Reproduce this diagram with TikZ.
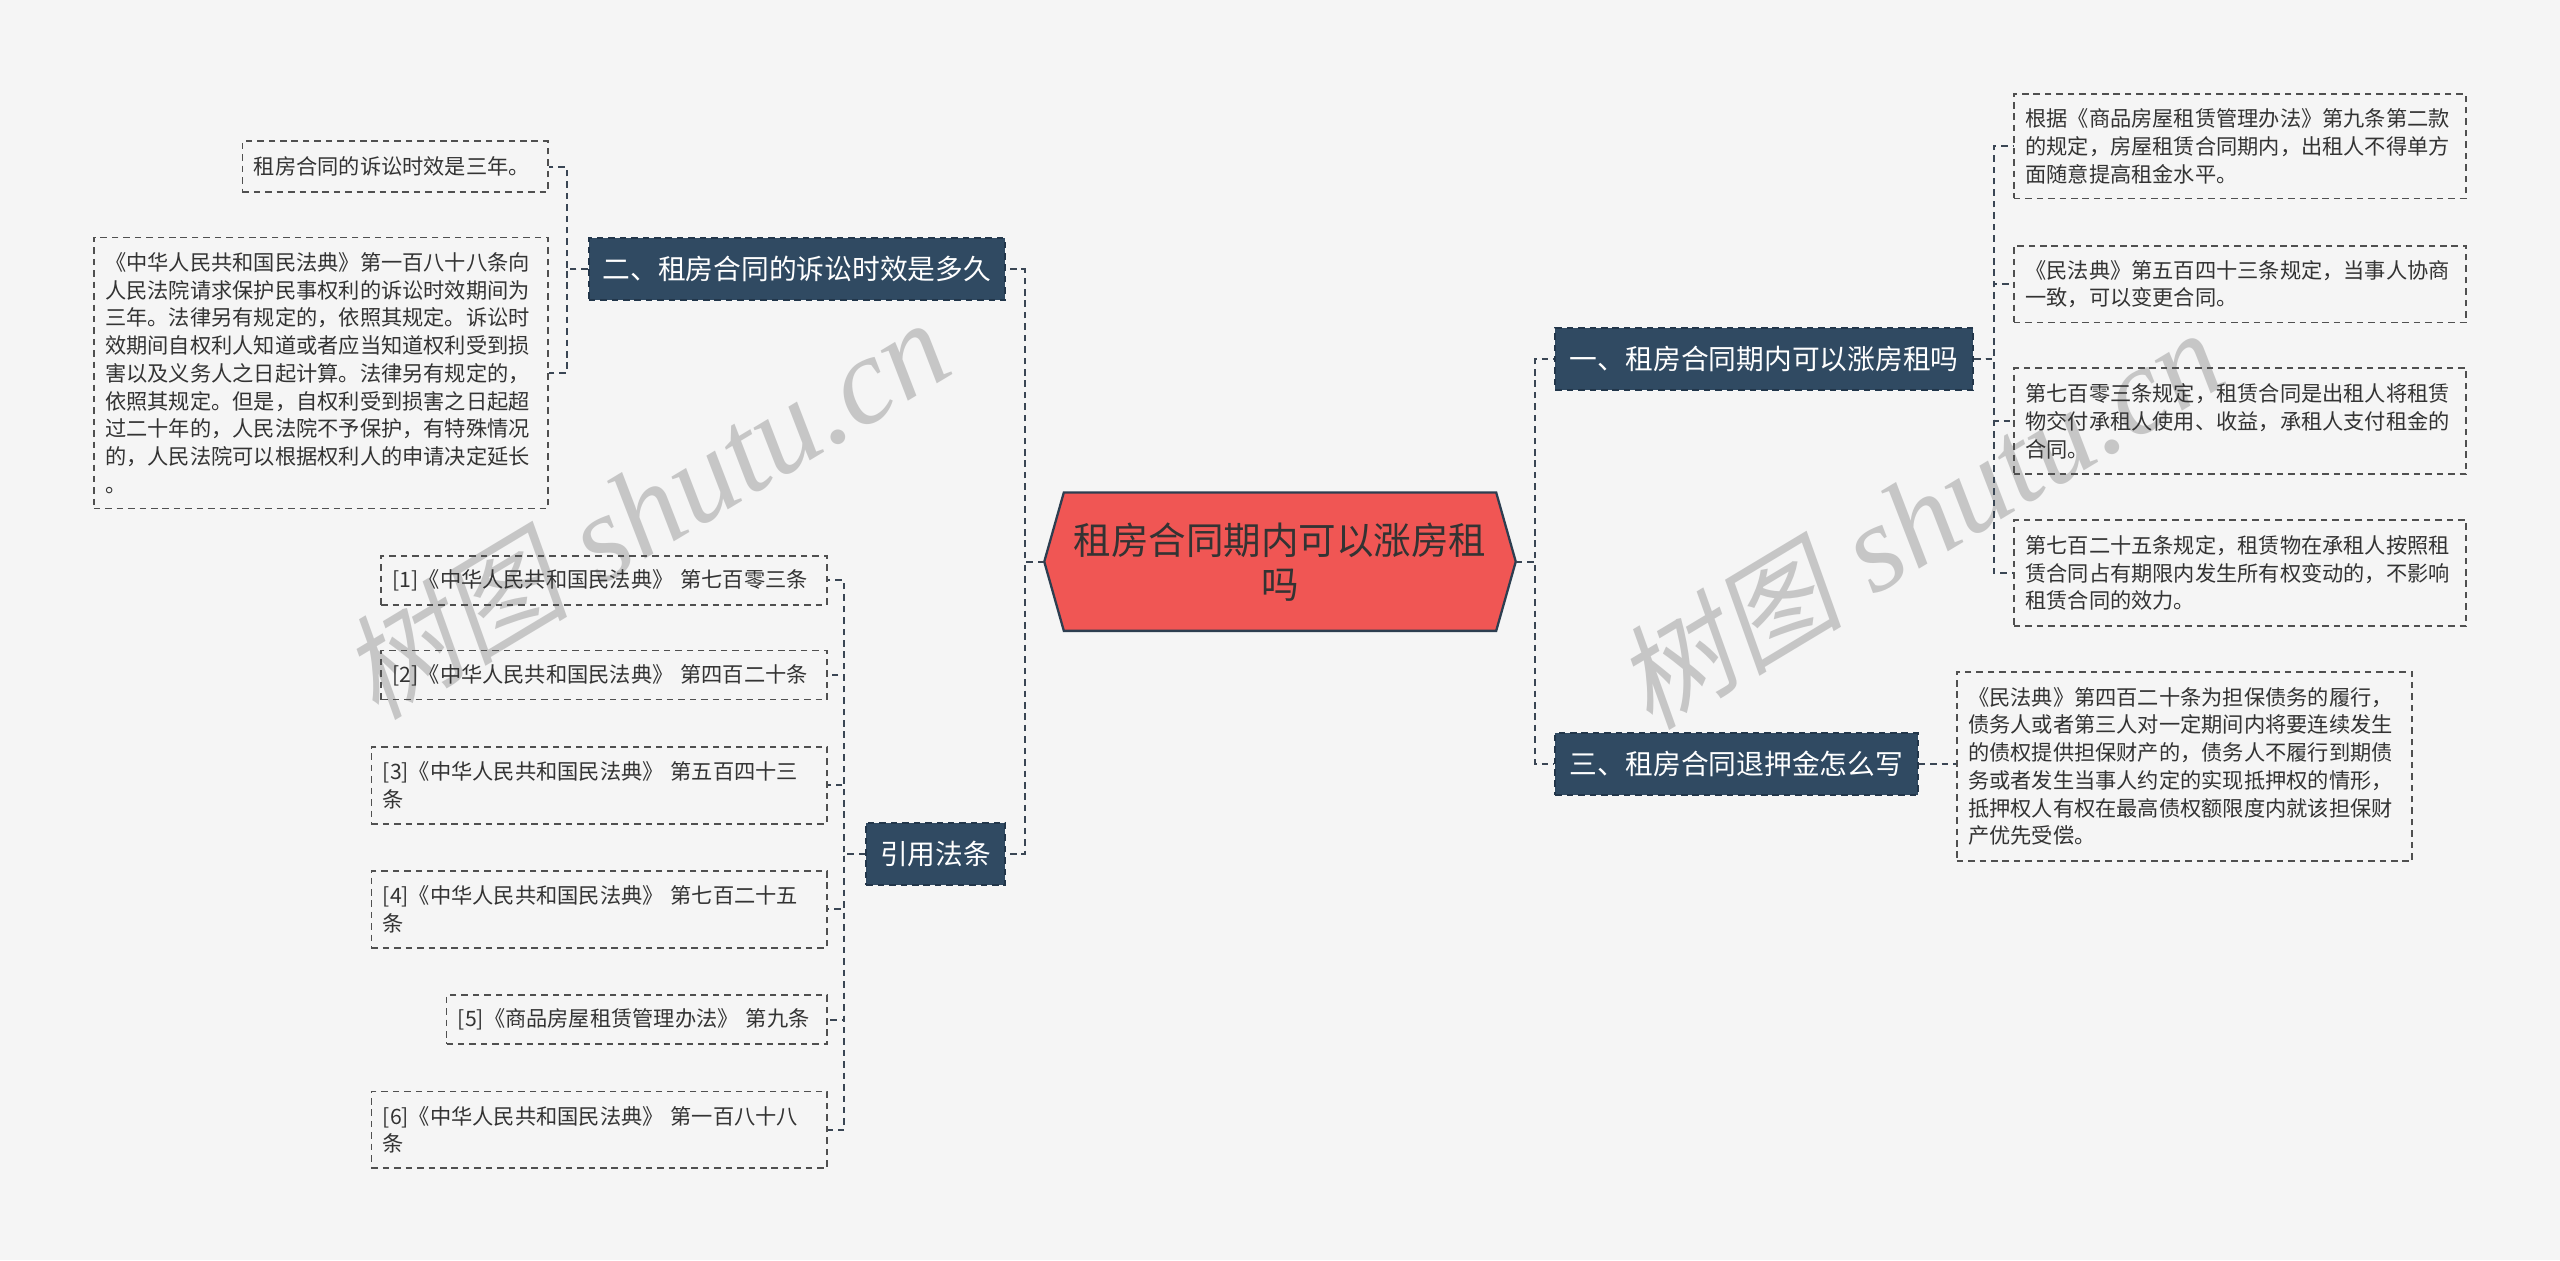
\documentclass[tikz,border=0pt]{standalone}
\usepackage{fontspec}
\setmainfont{Noto Sans CJK SC}
\newfontfamily\wmlatin{Liberation Serif}
\newfontfamily\wmcjk[FakeSlant=0.2]{Noto Sans CJK SC}
\usetikzlibrary{backgrounds}
\definecolor{bgc}{HTML}{F5F5F5}
\definecolor{cfill}{HTML}{F05654}
\definecolor{cline}{HTML}{2D3E50}
\definecolor{brfill}{HTML}{304A62}
\definecolor{brline}{HTML}{22364A}
\definecolor{leafc}{HTML}{505050}
\definecolor{txt}{HTML}{333333}
\definecolor{connc}{HTML}{3A4654}
\definecolor{wmc}{HTML}{A8A8A8}
\tikzset{
  leaf/.style={draw=leafc, line width=0.5pt, dash pattern=on 2pt off 1.5pt, text=txt, align=left,
    inner xsep=3.5pt, inner ysep=0pt, font=\fontsize{6.5}{8.5}\selectfont, anchor=north west},
  branch/.style={fill=brfill, draw=brline, line width=0.6pt, dash pattern=on 2pt off 1.5pt,
    text=white, font=\fontsize{8.5}{10}\selectfont, minimum height=19pt, inner xsep=0pt, anchor=west},
  conn/.style={draw=connc, line width=0.6pt, dash pattern=on 2pt off 1.5pt},
  wm/.style={text=wmc, text opacity=0.6, rotate=31, inner sep=0pt}
}
\begin{document}
\begin{tikzpicture}[x=0.5pt,y=-0.5pt]
\useasboundingbox (0,0) rectangle (1568,772);
\begin{pgfonlayer}{background}
\fill[bgc] (0,0) rectangle (1568,772);
% watermarks
\node[wm] (wm1) at (395,312) {{\wmcjk\fontsize{35}{35}\selectfont 树图}\hspace{10pt}{\wmlatin\itshape\fontsize{38}{38}\selectfont shutu.cn}};
\node[wm] (wm2) at (1175,318) {{\wmcjk\fontsize{35}{35}\selectfont 树图}\hspace{10pt}{\wmlatin\itshape\fontsize{38}{38}\selectfont shutu.cn}};
\end{pgfonlayer}

% central node
\node[minimum width=132pt, minimum height=42pt, inner sep=0pt, align=center, text=txt,
      font=\fontsize{11.5}{13.5}\selectfont] (c) at (784,344) {租房合同期内可以涨房租\\吗};
\coordinate (cw) at ([xshift=-6pt]c.west);
\coordinate (ce) at ([xshift=6pt]c.east);
\begin{pgfonlayer}{background}
\draw[fill=cfill, draw=cline, line width=0.7pt] (c.north west) -- (c.north east) -- (ce) -- (c.south east) -- (c.south west) -- (cw) -- cycle;
\end{pgfonlayer}

% branches
\node[branch, minimum width=128pt] (b1) at (952,220) {一、租房合同期内可以涨房租吗};
\node[branch, minimum width=111pt] (b3) at (952,468) {三、租房合同退押金怎么写};
\node[branch, minimum width=127.5pt] (b2) at (360,165) {二、租房合同的诉讼时效是多久};
\node[branch, minimum width=42.5pt] (b4) at (530,523) {引用法条};

% right leaves
\node[leaf, text width=131.5pt, minimum height=32pt] (rl1) at (1233,57)
  {根据《商品房屋租赁管理办法》第九条第二款\\的规定，房屋租赁合同期内，出租人不得单方\\面随意提高租金水平。};
\node[leaf, text width=131.5pt, minimum height=23.5pt] (rl2) at (1233,150)
  {《民法典》第五百四十三条规定，当事人协商\\一致，可以变更合同。};
\node[leaf, text width=131.5pt, minimum height=32.5pt] (rl3) at (1233,225)
  {第七百零三条规定，租赁合同是出租人将租赁\\物交付承租人使用、收益，承租人支付租金的\\合同。};
\node[leaf, text width=131.5pt, minimum height=32.5pt] (rl4) at (1233,318)
  {第七百二十五条规定，租赁物在承租人按照租\\赁合同占有期限内发生所有权变动的，不影响\\租赁合同的效力。};
\node[leaf, text width=132.5pt, minimum height=58pt] (rl5) at (1198,411)
  {《民法典》第四百二十条为担保债务的履行，\\债务人或者第三人对一定期间内将要连续发生\\的债权提供担保财产的，债务人不履行到期债\\务或者发生当事人约定的实现抵押权的情形，\\抵押权人有权在最高债权额限度内就该担保财\\产优先受偿。};

% left leaves of b2
\node[leaf, text width=86.5pt, minimum height=15.5pt] (l1) at (148,86)
  {租房合同的诉讼时效是三年。};
\node[leaf, text width=132pt, minimum height=83pt] (l2) at (57,145)
  {《中华人民共和国民法典》第一百八十八条向\\人民法院请求保护民事权利的诉讼时效期间为\\三年。法律另有规定的，依照其规定。诉讼时\\效期间自权利人知道或者应当知道权利受到损\\害以及义务人之日起计算。法律另有规定的，\\依照其规定。但是，自权利受到损害之日起超\\过二十年的，人民法院不予保护，有特殊情况\\的，人民法院可以根据权利人的申请决定延长\\。};

% references
\node[leaf, text width=129.5pt, minimum height=15pt] (r1) at (233,340)
  {[1]《中华人民共和国民法典》~第七百零三条};
\node[leaf, text width=129.5pt, minimum height=15pt] (r2) at (233,398)
  {[2]《中华人民共和国民法典》~第四百二十条};
\node[leaf, text width=132.5pt, minimum height=23.5pt] (r3) at (227,457)
  {[3]《中华人民共和国民法典》~第五百四十三\\条};
\node[leaf, text width=132.5pt, minimum height=23.5pt] (r4) at (227,533)
  {[4]《中华人民共和国民法典》~第七百二十五\\条};
\node[leaf, text width=109.5pt, minimum height=15pt] (r5) at (273,609)
  {[5]《商品房屋租赁管理办法》~第九条};
\node[leaf, text width=132.5pt, minimum height=23.5pt] (r6) at (227,668)
  {[6]《中华人民共和国民法典》~第一百八十八\\条};

% connectors
\draw[conn] (cw) -- ++(-6pt,0) |- (b2.east);
\draw[conn] (cw) -- ++(-6pt,0) |- (b4.east);
\draw[conn] (ce) -- ++(6pt,0) |- (b1.west);
\draw[conn] (ce) -- ++(6pt,0) |- (b3.west);
\foreach \n in {rl1,rl2,rl3,rl4}
  \draw[conn] (b1.east) -- ++(6pt,0) |- (\n.west);
\draw[conn] (b3.east) -- (b3.east -| rl5.west);
\foreach \n in {l1,l2}
  \draw[conn] (b2.west) -- ++(-6.5pt,0) |- (\n.east);
\foreach \n in {r1,r2,r3,r4,r5,r6}
  \draw[conn] (b4.west) -- ++(-6.5pt,0) |- (\n.east);
\end{tikzpicture}
\end{document}
